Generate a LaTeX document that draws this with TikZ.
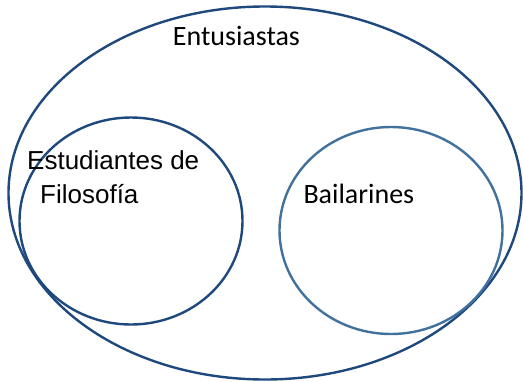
\documentclass[tikz,border=0pt]{standalone}
\usepackage{fontspec}
\setmainfont{Carlito}
\newfontfamily\arialfont{Liberation Sans}
\definecolor{darkset}{RGB}{31,73,125}
\definecolor{lightset}{RGB}{65,113,156}
\begin{document}
\begin{tikzpicture}[x=1pt,y=-1pt,
  setline/.style={line width=2.4pt},
  lbl/.style={anchor=base west, inner sep=0pt, text=black}]
\useasboundingbox (0,0) rectangle (523,381);
\fill[white] (0,0) rectangle (523,381);
\draw[setline, darkset] (265,193) ellipse [x radius=256.5, y radius=186.5];
\draw[setline, darkset] (131,221) ellipse [x radius=111.5, y radius=103.5];
\draw[setline, lightset] (391,230.5) ellipse [x radius=111.5, y radius=103.5];
\node[lbl, font=\fontsize{28}{34}\selectfont] (ent) at (172.7,45) {Entusiastas};
\node[lbl, font=\arialfont\fontsize{26}{34}\selectfont] (est) at (27,169) {Estudiantes de};
\node[lbl, font=\arialfont\fontsize{26}{34}\selectfont] (fil) at (40,203) {Filosofía};
\node[lbl, font=\fontsize{28}{34}\selectfont] (bai) at (303.3,203) {Bailarines};
\end{tikzpicture}
\end{document}
